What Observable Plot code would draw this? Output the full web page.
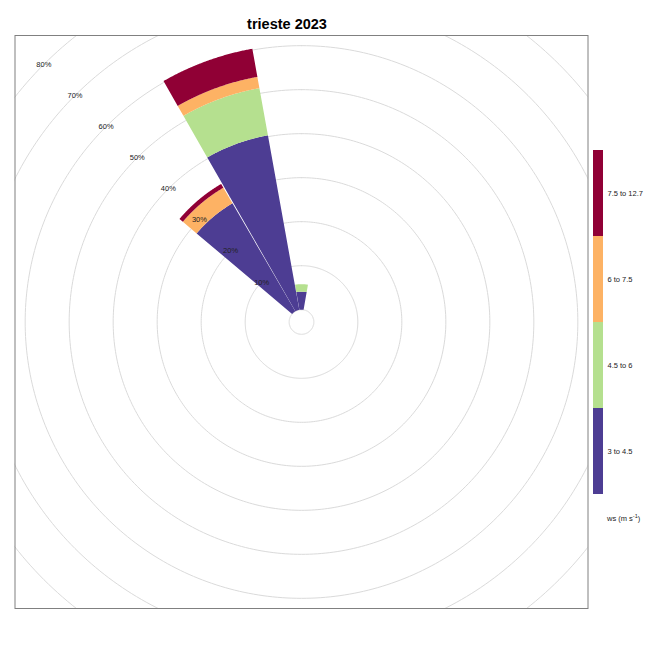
<!DOCTYPE html>
<html><head><meta charset="utf-8">
<script src="https://cdn.jsdelivr.net/npm/d3@7"></script>
<script src="https://cdn.jsdelivr.net/npm/@observablehq/plot@0.6"></script>
<style>
body{margin:0;background:#fff;font-family:"Liberation Sans",Arial,Helvetica,sans-serif}
#wrap{position:relative;width:650px;height:650px;overflow:hidden}
#wrap svg{position:absolute;display:block}
#title{position:absolute;left:0;width:574px;top:16.7px;text-align:center;font-weight:bold;font-size:14.5px;line-height:1;color:#000}
#lgtitle{position:absolute;left:607px;top:514px;font-size:7.5px;line-height:1;color:#222;white-space:nowrap}
#lgtitle sup{font-size:5.5px;vertical-align:3px}
</style></head><body>
<div id="wrap"></div>
<script>
// ---- data ----
const titleText = "trieste 2023";
const directions = [0, 320, 340];                 // degrees, 20° sectors
const speedBins = ["3 to 4.5", "4.5 to 6", "6 to 7.5", "7.5 to 12.7"];
const binColors = ["#4D3D93", "#B5E08F", "#FDB264", "#900035"];
const freq_3_to_4_5   = [4.1, 28.4, 40.3];        // % per direction
const freq_4_5_to_6   = [1.7, 0.0, 10.9];
const freq_6_to_7_5   = [0.0, 4.1, 2.6];
const freq_7_5_to_12_7 = [0.0, 1.0, 6.5];
const ringValues = [10, 20, 30, 40, 50, 60, 70, 80];
const ringLabels = ["10%", "20%", "30%", "40%", "50%", "60%", "70%", "80%"];
const legendTitleMain = "ws (m s";
const legendTitleSup = "-1";

// ---- geometry (not data) ----
const series = [freq_3_to_4_5, freq_4_5_to_6, freq_6_to_7_5, freq_7_5_to_12_7];
const OFFSET = 2.8;      // hole radius in % units
const HALF = 9.8;        // half width of a sector in degrees
const EXT = 65.11;       // half extent of panel in % units
const rad = a => a * Math.PI / 180;
const px = (r, a) => r * Math.sin(rad(a));
const py = (r, a) => r * Math.cos(rad(a));

const polys = [];
directions.forEach((d, i) => {
  let cum = 0;
  series.forEach((s, b) => {
    const v = s[i];
    if (v > 0) {
      const r0 = OFFSET + cum, r1 = OFFSET + cum + v;
      const id = `${d}-${b}`;
      for (let a = d - HALF; a <= d + HALF + 1e-9; a += 0.2) polys.push({id, bin: speedBins[b], x: px(r1, a), y: py(r1, a)});
      for (let a = d + HALF; a >= d - HALF - 1e-9; a -= 0.2) polys.push({id, bin: speedBins[b], x: px(r0, a), y: py(r0, a)});
      cum += v;
    }
  });
});

const rings = [];
[0, ...ringValues].forEach(p => {
  for (let a = 0; a <= 360; a += 1) rings.push({p, x: px(OFFSET + p, a), y: py(OFFSET + p, a)});
});

const labels = ringValues.map((p, i) => ({text: ringLabels[i], x: px(OFFSET + p, 315), y: py(OFFSET + p, 315)}));

const font = "'Liberation Sans', Arial, Helvetica, sans-serif";

const main = Plot.plot({
  width: 650, height: 650,
  marginLeft: 14.5, marginRight: 62.5, marginTop: 35, marginBottom: 42,
  x: {domain: [-EXT, EXT], axis: null},
  y: {domain: [-EXT, EXT], axis: null},
  color: {domain: speedBins, range: binColors},
  style: {fontFamily: font, background: "transparent"},
  marks: [
    Plot.line(rings, {x: "x", y: "y", z: "p", stroke: "#dadada", strokeWidth: 1, clip: true}),
    Plot.line(polys, {x: "x", y: "y", z: "id", fill: "bin", stroke: "none", clip: true}),
    Plot.text(labels, {x: "x", y: "y", text: "text", fontSize: 7.5, fill: "#222"}),
    Plot.frame({stroke: "#808080", strokeWidth: 1})
  ]
});
main.style.left = "0px"; main.style.top = "0px";

const legend = Plot.plot({
  width: 57, height: 344,
  marginLeft: 0, marginRight: 47, marginTop: 0, marginBottom: 0,
  x: {axis: null},
  y: {type: "band", domain: speedBins.slice().reverse(), padding: 0, axis: null},
  color: {domain: speedBins, range: binColors},
  style: {fontFamily: font, background: "transparent", overflow: "visible"},
  marks: [
    Plot.cell(speedBins, {y: d => d, fill: d => d, inset: 0}),
    Plot.text(speedBins, {y: d => d, text: d => d, frameAnchor: "right", textAnchor: "start", dx: 4, fontSize: 7.5, fill: "#222"})
  ]
});
legend.style.left = "593px"; legend.style.top = "150px";

const wrap = document.getElementById("wrap");
wrap.appendChild(main);
wrap.appendChild(legend);
const t = document.createElement("div"); t.id = "title"; t.textContent = titleText; wrap.appendChild(t);
const lt = document.createElement("div"); lt.id = "lgtitle";
lt.appendChild(document.createTextNode(legendTitleMain));
const sup = document.createElement("sup"); sup.textContent = legendTitleSup; lt.appendChild(sup);
lt.appendChild(document.createTextNode(")"));
wrap.appendChild(lt);
</script>
</body></html>
